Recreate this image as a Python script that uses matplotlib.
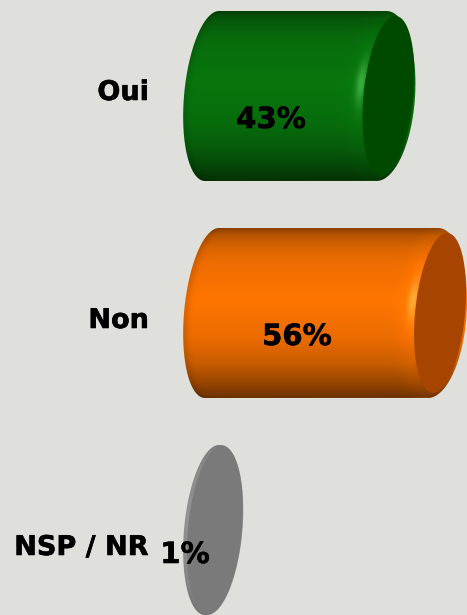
import numpy as np
import matplotlib
matplotlib.use('Agg')
import matplotlib.pyplot as plt
import matplotlib.patheffects as pe
from matplotlib.path import Path
from matplotlib.patches import PathPatch

categories = ['Oui', 'Non', 'NSP / NR']
values = [43.3, 56.1, 0.6]   # labels are rounded, lengths say a bit more
peak_colors = ['#08760d', '#ff7500', '#a0a0a0']
face_colors = ['#004a00', '#a64400', '#7a7a7a']
bg = '#dfe0db'

# sizes in pixels, converted to data units
px_x = 4.03    # px per percent
px_y = 217.0   # px per category
half_h = 85 / px_y
half_w = 28 / px_x
tilt = 7 / px_x


def ellipse(cx, cy, a, b, h, t0, t1, n=80):
    t = np.radians(np.linspace(t0, t1, n))
    return np.column_stack([cx + a * np.cos(t) + b * np.sin(t), cy - h * np.sin(t)])


def shade(val, cy, peak, rim):
    xs = np.linspace(-half_w - tilt - 1, val + half_w + tilt + 3, 500)
    ys = np.linspace(cy - half_h, cy + half_h, 340)
    xx, yy = np.meshgrid(xs, ys)
    u = (yy - ys[0]) / (ys[-1] - ys[0])
    s = np.interp(u, [0, .04, .12, .2, .42, .65, .8, .92, 1],
                  [.55, .72, .86, .93, 1, .92, .78, .58, .42])
    s = 1 - (1 - s) * (.3 + .7 * rim)   # the thin disc hardly darkens
    py = (yy - cy) * px_y
    # rim of the right end, brighter around the upper middle
    edge = val + (2 - np.sqrt(np.clip(1 - (py / 80) ** 2, 0, 1)) * 25 - (py / 80) * 7) / px_x
    d = (xx - edge) * px_x
    glow = np.exp(-((d + 4) / 5) ** 2) * np.exp(-((py + 13) / 22) ** 2) * rim
    band = np.exp(-((d + 6) / 12) ** 2) * rim
    # left end falls off a little
    ledge = -np.sqrt(np.clip(1 - (py / 85) ** 2, 0, 1)) * half_w - (py / 85) * tilt
    s = s * (1 - .12 * np.exp(-((xx - ledge) * px_x / 5) ** 2))
    rgb = np.array(matplotlib.colors.to_rgb(peak))
    img = s[..., None] * rgb
    img = img + glow[..., None] * .2 + band[..., None] * rgb * .04
    return np.clip(img, 0, 1), [xs[0], xs[-1], ys[-1], ys[0]]


fig = plt.figure(figsize=(4.67, 6.15), dpi=100, facecolor=bg)
ax = fig.add_axes([0, 0, 1, 1])
ax.set_xlim(-212 / px_x, (467 - 212) / px_x)
ax.set_ylim((615 - 96) / px_y, -96 / px_y)
ax.axis('off')

label_dy = [-3, 8, 18]
pct_dy = [24, 24, 25]
bold = [pe.withStroke(linewidth=.4, foreground='black')]

for i, v in enumerate(values):
    # long bars have a wider shoulder at the right end
    rim = min(v / 10, 1)
    right = ellipse(v - 5 * rim / px_x, i, half_w + 5.6 * rim / px_x, tilt - 2 * rim / px_x, half_h, 270, 450)
    outline = np.vstack([ellipse(0, i, half_w, tilt, half_h, 90, 270), right])
    body = PathPatch(Path(outline, closed=False), fc='none', ec='none')
    ax.add_patch(body)
    img, ext = shade(v, i, peak_colors[i], rim)
    im = ax.imshow(img, extent=ext, aspect='auto', interpolation='bilinear', zorder=1)
    im.set_clip_path(body)

    if rim == 1:
        face = ellipse(v + 2 / px_x, i, 25 / px_x, tilt, 80 / px_y, 0, 360)
    else:
        face = ellipse(v + .5 / px_x, i, half_w * .97, tilt, half_h * .99, 0, 360)
    ax.fill(face[:, 0], face[:, 1], color=face_colors[i], lw=0, zorder=2)

    ax.text(-63 / px_x, i + label_dy[i] / px_y, categories[i], ha='right', va='center',
            fontsize=19.5, fontweight='bold', color='black', zorder=3, path_effects=bold)
    ax.text(v / 2 - 7, i + pct_dy[i] / px_y, f'{v:.0f}%', ha='center', va='center',
            fontsize=21, fontweight='bold', color='black', zorder=3, path_effects=bold)

ax.set_xlim(-212 / px_x, (467 - 212) / px_x)
ax.set_ylim((615 - 96) / px_y, -96 / px_y)
fig.savefig('out.png', dpi=100, facecolor=bg)
